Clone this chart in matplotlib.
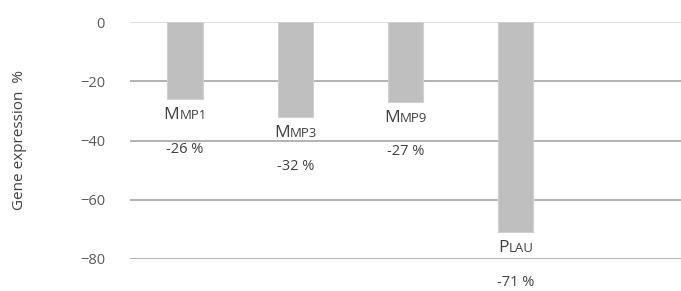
import matplotlib
matplotlib.use('Agg')
import matplotlib.pyplot as plt
from matplotlib.transforms import offset_copy

genes = [('M', 'MP1'), ('M', 'MP3'), ('M', 'MP9'), ('P', 'LAU')]
values = [-26, -32, -27, -71]
valueLabels = ['-26 %', '-32 %', '-27 %', '-71 %']
yTicks = [0, -20, -40, -60, -80]

plt.rcParams['font.family'] = ['Open Sans', 'DejaVu Sans']

fig = plt.figure(figsize=(6.81, 2.91), dpi=100)
ax = fig.add_axes([130 / 681, 1 - 259 / 291, 551 / 681, 237 / 291])

x = list(range(len(values)))
ax.bar(x, values, width=0.32, color='#bfbfbf', edgecolor='#d0d0d0', linewidth=0.8, zorder=3)
ax.set_xlim(-0.5, 4.5)
ax.set_ylim(-80, 0)
ax.set_yticks(yTicks)
ax.set_xticks([])
for t in yTicks:
    ax.axhline(t, color='#d9d9d9' if t == 0 else '#a6a6a6', lw=1.2, zorder=1)
for s in ax.spines.values():
    s.set_visible(False)
ax.tick_params(axis='y', length=0, pad=18, labelsize=10.5, labelcolor='#595959')
ax.set_ylabel('Gene expression  %', fontsize=11, color='#404040', labelpad=38)

fig.canvas.draw()
renderer = fig.canvas.get_renderer()
for xi, v, (big, small), vl in zip(x, values, genes, valueLabels):
    t1 = ax.text(xi, v, big, fontsize=12.5, color='#404040', ha='right', va='baseline',
                 transform=ax.transData, clip_on=False)
    t2 = ax.text(xi, v, small, fontsize=9.5, color='#404040', ha='left', va='baseline',
                 transform=ax.transData, clip_on=False)
    w1 = t1.get_window_extent(renderer).width
    w2 = t2.get_window_extent(renderer).width
    shift = (w1 - w2) / 2
    t1.set_transform(offset_copy(ax.transData, fig=fig, x=shift, y=-20, units='dots'))
    t2.set_transform(offset_copy(ax.transData, fig=fig, x=shift, y=-20, units='dots'))
    ax.text(xi, v, vl, fontsize=10.5, color='#404040', ha='center', va='center',
            transform=offset_copy(ax.transData, fig=fig, x=0, y=-50, units='dots'),
            clip_on=False)

fig.savefig('out.png', dpi=100)
